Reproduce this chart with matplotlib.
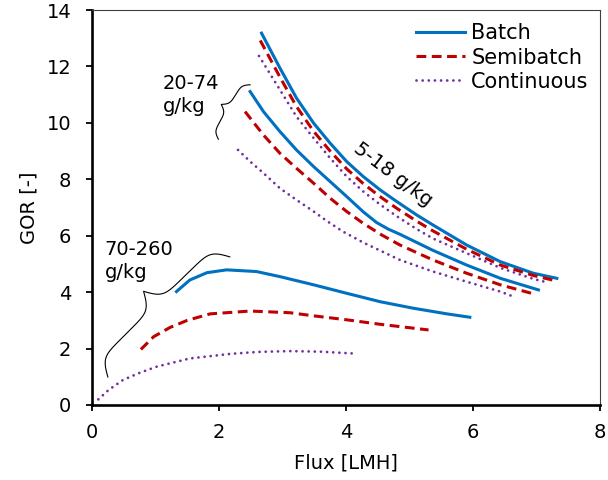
import numpy as np
import matplotlib
matplotlib.use('Agg')
import matplotlib.pyplot as plt

# GOR vs. flux for three salinity ranges and three operating modes
# low salinity (5-18 g/kg)
flux_batch_lo = [2.67, 2.96, 3.22, 3.49, 3.75, 4.01, 4.27, 4.54, 4.80, 5.11, 5.37, 5.90, 6.43, 6.95, 7.32]
gor_batch_lo = [13.18, 11.94, 10.88, 9.99, 9.28, 8.63, 8.10, 7.62, 7.21, 6.74, 6.38, 5.67, 5.08, 4.67, 4.49]
flux_semi_lo = [2.65, 2.96, 3.22, 3.49, 3.75, 4.01, 4.27, 4.54, 4.80, 5.11, 5.37, 5.90, 6.43, 6.95, 7.29]
gor_semi_lo = [12.92, 11.62, 10.58, 9.70, 9.00, 8.37, 7.85, 7.38, 6.97, 6.52, 6.17, 5.52, 4.96, 4.59, 4.41]
flux_cont_lo = [2.63, 2.96, 3.22, 3.49, 3.75, 4.01, 4.27, 4.54, 4.80, 5.11, 5.37, 5.90, 6.43, 6.95, 7.16]
gor_cont_lo = [12.37, 11.17, 10.22, 9.46, 8.75, 8.10, 7.57, 7.10, 6.69, 6.24, 5.90, 5.38, 4.86, 4.47, 4.35]

# medium salinity (20-74 g/kg)
flux_batch_mid = [2.49, 2.70, 2.96, 3.22, 3.49, 3.75, 4.01, 4.27, 4.48, 4.66, 4.85, 5.37, 5.90, 6.43, 7.03]
gor_batch_mid = [11.11, 10.40, 9.69, 9.04, 8.45, 7.92, 7.39, 6.85, 6.47, 6.24, 6.05, 5.48, 4.96, 4.49, 4.08]
flux_semi_mid = [2.41, 2.70, 2.96, 3.22, 3.49, 3.75, 4.01, 4.27, 4.56, 4.85, 5.37, 5.90, 6.43, 6.92]
gor_semi_mid = [10.40, 9.57, 8.92, 8.39, 7.86, 7.33, 6.86, 6.44, 6.03, 5.67, 5.14, 4.67, 4.26, 3.96]
flux_cont_mid = [2.30, 2.49, 2.70, 2.96, 3.22, 3.49, 3.70, 3.95, 4.27, 4.85, 5.37, 5.90, 6.43, 6.64]
gor_cont_mid = [9.04, 8.63, 8.22, 7.68, 7.27, 6.86, 6.52, 6.15, 5.76, 5.14, 4.73, 4.37, 4.02, 3.84]

# high salinity (70-260 g/kg)
flux_batch_hi = [1.33, 1.54, 1.81, 2.12, 2.59, 2.96, 3.49, 4.01, 4.54, 5.06, 5.59, 5.95]
gor_batch_hi = [4.02, 4.43, 4.69, 4.79, 4.73, 4.55, 4.26, 3.96, 3.66, 3.43, 3.23, 3.11]
flux_semi_hi = [0.77, 0.97, 1.23, 1.50, 1.86, 2.49, 3.12, 3.49, 4.01, 4.54, 5.30]
gor_semi_hi = [1.97, 2.42, 2.75, 3.00, 3.23, 3.33, 3.27, 3.16, 3.02, 2.86, 2.66]
flux_cont_hi = [0.10, 0.26, 0.49, 0.75, 1.02, 1.54, 2.17, 2.60, 3.12, 3.60, 4.16]
gor_cont_hi = [0.20, 0.53, 0.89, 1.14, 1.36, 1.65, 1.81, 1.88, 1.91, 1.89, 1.82]

modes = ['Batch', 'Semibatch', 'Continuous']
mode_colors = ['#0070C0', '#C00000', '#7030A0']
series = {
    'Batch': [(flux_batch_lo, gor_batch_lo), (flux_batch_mid, gor_batch_mid), (flux_batch_hi, gor_batch_hi)],
    'Semibatch': [(flux_semi_lo, gor_semi_lo), (flux_semi_mid, gor_semi_mid), (flux_semi_hi, gor_semi_hi)],
    'Continuous': [(flux_cont_lo, gor_cont_lo), (flux_cont_mid, gor_cont_mid), (flux_cont_hi, gor_cont_hi)],
}
line_styles = {
    'Batch': dict(linestyle='-', linewidth=2.2),
    'Semibatch': dict(linestyle=(0, (3.2, 1.8)), linewidth=2.2),
    'Continuous': dict(linestyle=(0, (0.01, 2.2)), linewidth=2.0, dash_capstyle='round'),
}


def draw_brace(ax, p0, p1, depth, beta):
    # curly brace between two data points, tip bulging to the left of p0->p1 (depth in pixels)
    a = ax.transData.transform(p0)
    b = ax.transData.transform(p1)
    d = b - a
    length = np.hypot(*d)
    d = d / length
    n = np.array([-d[1], d[0]])
    half = length / 2
    u = np.linspace(0, half, 200)
    v = 1 / (1 + np.exp(-beta * (u - u[0]))) + 1 / (1 + np.exp(-beta * (u - u[-1])))
    u = np.concatenate([u, length - u[::-1]])
    v = np.concatenate([v, v[::-1]]) - 0.5
    pts = a + np.outer(u, d) + np.outer(v * depth, n)
    pts = ax.transData.inverted().transform(pts)
    ax.plot(pts[:, 0], pts[:, 1], color='black', linewidth=0.8, clip_on=False)


fig = plt.figure(figsize=(6.08, 4.8), dpi=100)
ax = fig.add_axes([92 / 608, 75 / 480, 508 / 608, 395 / 480])
ax.set_xlim(0, 8)
ax.set_ylim(0, 14)

for mode, col in zip(modes, mode_colors):
    for i, (fx, gy) in enumerate(series[mode]):
        ax.plot(fx, gy, color=col, label=mode if i == 0 else None,
                solid_joinstyle='round', **line_styles[mode])

ax.set_xticks(np.arange(0, 9, 2))
ax.set_yticks(np.arange(0, 15, 2))
ax.tick_params(axis='both', direction='out', length=4, width=1.3, labelsize=14, color='black')
ax.tick_params(axis='y', pad=11)
ax.tick_params(axis='x', pad=9)
ax.set_xlabel('Flux [LMH]', fontsize=14, labelpad=8)
ax.set_ylabel('GOR [-]', fontsize=14, labelpad=6)

for s in ['left', 'bottom']:
    ax.spines[s].set_linewidth(1.9)
    ax.spines[s].set_color('black')
for s in ['top', 'right']:
    ax.spines[s].set_linewidth(0.8)
    ax.spines[s].set_color('#404040')

ax.legend(loc='upper right', bbox_to_anchor=(1.0 - 3 / 508, 1.0 - 5 / 395), frameon=False, fontsize=15,
          handlelength=2.35, handletextpad=0.3, labelspacing=0.2, borderaxespad=0.2, borderpad=0.2)

ax.text(4.74, 8.16, '5-18 g/kg', fontsize=14, rotation=-37, rotation_mode='anchor',
        ha='center', va='center')
ax.text(1.12, 11.74, '20-74\ng/kg', fontsize=14, ha='left', va='top', linespacing=1.25)
ax.text(0.2, 5.85, '70-260\ng/kg', fontsize=14, ha='left', va='top', linespacing=1.25)

draw_brace(ax, (1.99, 9.42), (2.49, 11.35), 15, 0.4)
draw_brace(ax, (0.25, 0.99), (2.17, 5.25), 36, 0.2)

fig.savefig('out.png', dpi=100)
